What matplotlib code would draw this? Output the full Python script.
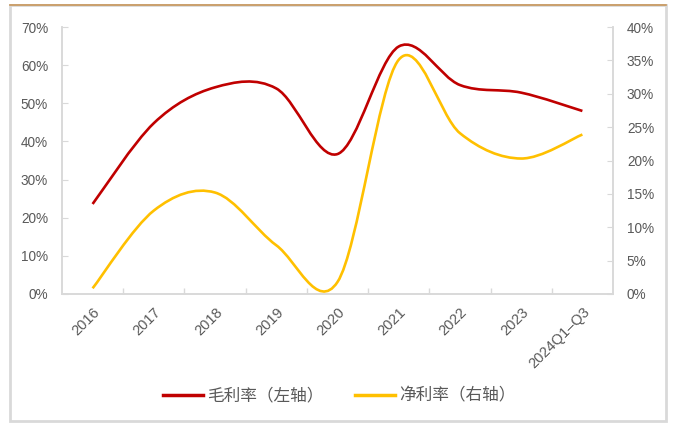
import numpy as np
import matplotlib
matplotlib.use("Agg")
import matplotlib.pyplot as plt
from matplotlib.path import Path
from matplotlib.patches import PathPatch, Rectangle
from matplotlib.lines import Line2D
from matplotlib.ticker import PercentFormatter, FixedLocator

plt.rcParams['font.family'] = ['Liberation Sans', 'Noto Sans CJK SC', 'DejaVu Sans']

# data
years = ['2016', '2017', '2018', '2019', '2020', '2021', '2022', '2023', '2024Q1–Q3']
gross_margin = [23.6, 44.8, 54.2, 53.9, 36.7, 64.9, 54.8, 52.8, 48.0]   # left axis, %
net_margin = [0.85, 12.5, 15.2, 7.3, 1.8, 35.1, 24.1, 20.3, 23.9]        # right axis, %

RED = '#C00000'
YELLOW = '#FFC000'
GRID = '#D9D9D9'
TXT = '#595959'


def smooth_path(x, y):
    # Catmull-Rom style bezier through the points (like a smoothed line in Excel)
    pts = np.column_stack([x, y]).astype(float)
    ext = np.vstack([pts[0], pts, pts[-1]])
    verts = [pts[0]]
    codes = [Path.MOVETO]
    for i in range(len(pts) - 1):
        p0, p1, p2, p3 = ext[i], ext[i + 1], ext[i + 2], ext[i + 3]
        c1 = p1 + (p2 - p0) / 6
        c2 = p2 - (p3 - p1) / 6
        verts += [c1, c2, p2]
        codes += [Path.CURVE4] * 3
    return Path(verts, codes)


fig = plt.figure(figsize=(6.79, 4.23), dpi=100)
ax = fig.add_axes([0.0913, 0.305, 0.8115, 0.631])
ax2 = ax.twinx()

x = np.arange(len(years))
ax.add_patch(PathPatch(smooth_path(x, gross_margin), fill=False, edgecolor=RED,
                       lw=1.9, capstyle='butt', zorder=3))
ax2.add_patch(PathPatch(smooth_path(x, net_margin), fill=False, edgecolor=YELLOW,
                        lw=1.9, capstyle='butt', zorder=3))

ax.set_xlim(-0.5, len(years) - 0.5)
ax.set_ylim(0, 70)
ax2.set_ylim(0, 40)
ax.set_yticks(np.arange(0, 71, 10))
ax2.set_yticks(np.arange(0, 41, 5))
ax.yaxis.set_major_formatter(PercentFormatter(decimals=0))
ax2.yaxis.set_major_formatter(PercentFormatter(decimals=0))

ax.set_xticks(x)
ax.set_xticklabels(years, rotation=45, ha='right', rotation_mode='anchor')
ax.xaxis.set_minor_locator(FixedLocator(np.arange(0.5, len(years) - 1, 1)))
ax.tick_params(axis='x', which='major', length=0, pad=8, labelsize=10.5, labelcolor=TXT)
ax.tick_params(axis='x', which='minor', direction='in', length=4, color=GRID, width=1)
ax.tick_params(axis='y', direction='in', length=4, color=GRID, pad=10,
               labelsize=9.8, labelcolor=TXT)
ax2.tick_params(axis='y', direction='in', length=4, color=GRID, pad=10,
                labelsize=9.8, labelcolor=TXT)

for a in (ax, ax2):
    a.spines['top'].set_visible(False)
    for s in ('left', 'right', 'bottom'):
        a.spines[s].set_color(GRID)
        a.spines[s].set_linewidth(1.2)

# legend
handles = [Line2D([], [], color=RED, lw=2.5), Line2D([], [], color=YELLOW, lw=2.5)]
fig.legend(handles, ['毛利率（左轴）', '净利率（右轴）'], loc='center',
           bbox_to_anchor=(0.5, 1 - 396 / 423), ncol=2, frameon=False,
           handlelength=2.4, handletextpad=0.25, columnspacing=1.9,
           prop={'family': ['Noto Sans CJK SC'], 'size': 12}, labelcolor=TXT)

# outer frame
fig.patches.append(Rectangle((10 / 679, 2 / 423), 656 / 679, 416 / 423, transform=fig.transFigure,
                             fill=False, edgecolor=GRID, lw=2, zorder=0))
fig.add_artist(Line2D([10 / 679, 666 / 679], [1 - 5 / 423, 1 - 5 / 423], color='#C8965A', lw=1.2))

fig.savefig('out.png', dpi=100)
